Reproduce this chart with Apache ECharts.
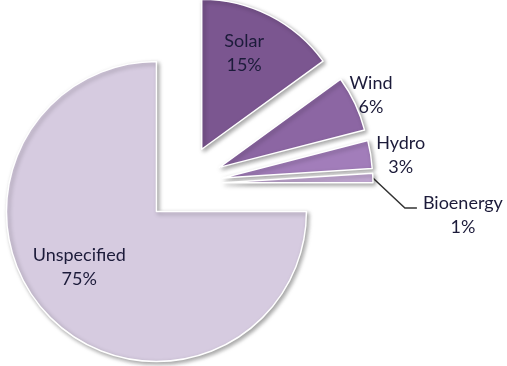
<!DOCTYPE html>
<html>
<head>
<meta charset="utf-8">
<script src="https://cdn.jsdelivr.net/npm/echarts@6/dist/echarts.min.js"></script>
<style>
  html, body { margin: 0; padding: 0; background: #ffffff; }
  #chart { width: 507px; height: 366px; }
</style>
</head>
<body>
<div id="chart"></div>
<script>
// Electricity sources, share of total (%)
const categories = ['Solar', 'Wind', 'Hydro', 'Bioenergy', 'Unspecified'];
const shares = [15, 6, 3, 1, 75];
const sliceColors = ['#7b5690', '#8c66a3', '#a27dba', '#c2a8d3', '#d6cbe0'];

// label placement per slice: [position, dx, dy]
const labelPlacement = [
  ['inside', 7, -27],
  ['outside', -34, -8],
  ['outside', -20, 1],
  ['outside', 8, 38],
  ['inside', -22, 0]
];

const textColor = '#1c1b3a';

const chart = echarts.init(document.getElementById('chart'), null, { renderer: 'canvas' });

const data = categories.map(function (name, i) {
  const pos = labelPlacement[i][0];
  return {
    name: name,
    value: shares[i],
    selected: true,
    itemStyle: { color: sliceColors[i] },
    label: { position: pos },
    labelLine: {
      show: name === 'Bioenergy',
      length: name === 'Bioenergy' ? 20 : 0,
      length2: name === 'Bioenergy' ? 12 : 0
    }
  };
});

chart.setOption({
  animation: false,
  series: [{
    type: 'pie',
    center: [184, 184],
    radius: [0, 150],
    startAngle: 90,
    clockwise: true,
    selectedMode: 'multiple',
    selectedOffset: 39,
    avoidLabelOverlap: false,
    emphasis: { disabled: true },
    itemStyle: {
      borderColor: '#ffffff',
      borderWidth: 1.5,
      shadowBlur: 4,
      shadowOffsetX: 2,
      shadowOffsetY: 2,
      shadowColor: 'rgba(0,0,0,0.35)'
    },
    label: {
      show: true,
      formatter: '{t|{b}}\n{t|{c}%}',
      rich: {
        t: {
          width: 90,
          align: 'center',
          fontFamily: 'Lato',
          fontSize: 18,
          lineHeight: 24,
          color: textColor
        }
      }
    },
    labelLine: {
      lineStyle: { color: '#333333', width: 1.5 }
    },
    labelLayout: function (params) {
      const p = labelPlacement[params.dataIndex];
      const out = { dx: p[1], dy: p[2] };
      const pts = params.labelLinePoints;
      if (pts && categories[params.dataIndex] === 'Bioenergy') {
        // leader line: diagonal drop from the slice edge, then a short horizontal run
        const s = pts[0];
        out.labelLinePoints = [
          [s[0], s[1]],
          [s[0] + 32, s[1] + 30],
          [s[0] + 44, s[1] + 30]
        ];
      }
      return out;
    },
    data: data
  }]
});
</script>
</body>
</html>
